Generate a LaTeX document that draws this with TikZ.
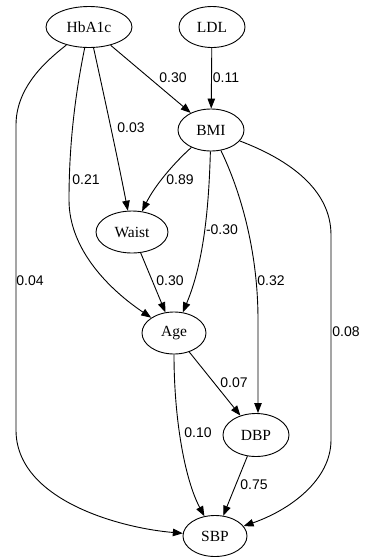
\documentclass[tikz,border=0pt]{standalone}
\usepackage{fontspec}
\setmainfont{Liberation Serif}
\newfontfamily\edgefont{Liberation Sans}
\usetikzlibrary{shapes.geometric,arrows.meta}
\begin{document}
\begin{tikzpicture}[x=1pt,y=-1pt,
  var/.style={draw,ellipse,line width=0.9pt,inner sep=0pt,
    font=\fontsize{15.5}{18}\selectfont},
  link/.style={draw,line width=0.9pt,-{Triangle[length=10pt,width=7.5pt]}},
  coef/.style={font=\edgefont\fontsize{14}{16}\selectfont,inner sep=0pt}]
\useasboundingbox (0,0) rectangle (366,558);

% variables
\node[var,minimum width=86pt,minimum height=41pt] (hba) at (89,27) {HbA1c};
\node[var,minimum width=66pt,minimum height=41pt] (ldl) at (212,27) {LDL};
\node[var,minimum width=66pt,minimum height=42pt] (bmi) at (211,130) {BMI};
\node[var,minimum width=72pt,minimum height=42pt] (waist) at (132,232) {Waist};
\node[var,minimum width=64pt,minimum height=42pt] (age) at (174,333) {Age};
\node[var,minimum width=66pt,minimum height=43pt] (dbp) at (256,435) {DBP};
\node[var,minimum width=64pt,minimum height=41pt] (sbp) at (215,536) {SBP};

% paths
\draw[link] (hba) -- (bmi);
\draw[link] (ldl) -- (bmi);
\draw[link] (hba) .. controls (105,100) and (118,160) .. (waist);
\draw[link] (hba) .. controls (74,100) and (69,150) .. (69,200)
  .. controls (69,250) and (110,290) .. (age);
\draw[link] (hba) .. controls (50,58) and (16,85) .. (16,125) -- (16,430)
  .. controls (16,500) and (120,528) .. (sbp);
\draw[link] (bmi) .. controls (175,162) and (155,185) .. (waist);
\draw[link] (bmi) .. controls (209,200) and (205,260) .. (age);
\draw[link] (bmi) .. controls (240,190) and (258,250) .. (258,320) -- (258,413);
\draw[link] (bmi) .. controls (290,160) and (331,190) .. (331,235) -- (331,440)
  .. controls (331,480) and (290,510) .. (sbp);
\draw[link] (waist) -- (age);
\draw[link] (age) -- (dbp);
\draw[link] (age) .. controls (174,420) and (185,480) .. (sbp);
\draw[link] (dbp) -- (sbp);

% coefficients
\node[coef] (c1) at (173,78) {0.30};
\node[coef] (c2) at (226,78) {0.11};
\node[coef] (c3) at (131,128) {0.03};
\node[coef] (c4) at (86,180) {0.21};
\node[coef] (c5) at (180,180) {0.89};
\node[coef] (c6) at (222,230) {-0.30};
\node[coef] (c7) at (30,281) {0.04};
\node[coef] (c8) at (170,281) {0.30};
\node[coef] (c9) at (271,281) {0.32};
\node[coef] (c10) at (346,332) {0.08};
\node[coef] (c11) at (234,383) {0.07};
\node[coef] (c12) at (198,433) {0.10};
\node[coef] (c13) at (254,485) {0.75};
\end{tikzpicture}
\end{document}
